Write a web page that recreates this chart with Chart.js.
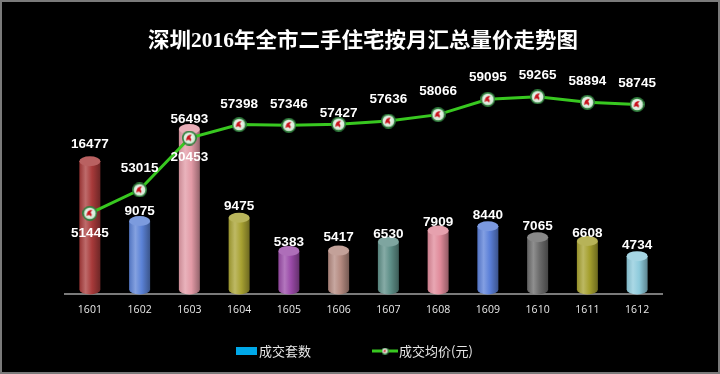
<!DOCTYPE html>
<html>
<head>
<meta charset="utf-8">
<script src="https://cdn.jsdelivr.net/npm/chart.js@4"></script>
<style>
  html, body { margin: 0; padding: 0; background: #000; }
  #chart { display: block; }
</style>
</head>
<body>
<canvas id="chart" width="720" height="374"></canvas>
<script>
// data
const months = ['1601', '1602', '1603', '1604', '1605', '1606', '1607', '1608', '1609', '1610', '1611', '1612'];
const dealCount = [16477, 9075, 20453, 9475, 5383, 5417, 6530, 7909, 8440, 7065, 6608, 4734];
const avgPrice = [51445, 53015, 56493, 57398, 57346, 57427, 57636, 58066, 59095, 59265, 58894, 58745];

const titleText = '深圳2016年全市二手住宅按月汇总量价走势图';
const countLabel = '成交套数';
const priceLabel = '成交均价(元)';

// styling
const barColors = ['#a83a3a', '#5b82d6', '#e29aa6', '#a8a232', '#9a4aa8', '#b48a80',
                   '#5e8f88', '#e08a9a', '#5a7fd8', '#6a6a6a', '#a5a02e', '#8ecbdc'];
const barLabelDy = [-17, -10, 28, -12, -9, -13, -7, -8, -11, -11, -8, -11];
const lineLabelDy = [20, -22, -19, -20, -21, -11, -22, -23, -22, -21, -21, -21];
const lineGreen = '#38c820';

function shade(hex, amt) {
  const n = parseInt(hex.slice(1), 16);
  let r = n >> 16, g = (n >> 8) & 255, b = n & 255;
  const f = v => Math.max(0, Math.min(255, Math.round(amt >= 0 ? v + (255 - v) * amt : v * (1 + amt))));
  return `rgb(${f(r)},${f(g)},${f(b)})`;
}

// marker image for the price line
function makeMarker(size) {
  const c = document.createElement('canvas');
  c.width = c.height = size;
  const g = c.getContext('2d');
  const m = size / 2;
  g.fillStyle = '#2f7d3c';
  g.beginPath(); g.arc(m, m, m, 0, Math.PI * 2); g.fill();
  const rg = g.createRadialGradient(m - 1, m - 1, 0, m, m, m * 0.8);
  rg.addColorStop(0, '#ffffff');
  rg.addColorStop(1, '#cfe8d2');
  g.fillStyle = rg;
  g.beginPath(); g.arc(m, m, m * 0.78, 0, Math.PI * 2); g.fill();
  g.fillStyle = '#c8141e';
  g.beginPath();
  g.moveTo(m - m * 0.45, m + m * 0.35);
  g.quadraticCurveTo(m - m * 0.4, m - m * 0.5, m + m * 0.3, m - m * 0.45);
  g.lineTo(m + m * 0.1, m - m * 0.1);
  g.quadraticCurveTo(m + m * 0.35, m + m * 0.1, m + m * 0.2, m + m * 0.45);
  g.quadraticCurveTo(m, m + m * 0.1, m - m * 0.45, m + m * 0.35);
  g.fill();
  return c;
}
const marker = makeMarker(15);

// draws each bar as a shaded cylinder
const cylinderPlugin = {
  id: 'cylinders',
  afterDatasetDraw(chart, args) {
    if (args.index !== 0) return;
    const ctx = chart.ctx;
    args.meta.data.forEach((bar, i) => {
      const { x, y, base, width } = bar.getProps(['x', 'y', 'base', 'width'], true);
      const rx = width / 2, ry = 5;
      const col = barColors[i];
      const left = x - rx;
      const grad = ctx.createLinearGradient(left, 0, left + width, 0);
      grad.addColorStop(0, shade(col, -0.1));
      grad.addColorStop(0.3, shade(col, 0.25));
      grad.addColorStop(0.6, col);
      grad.addColorStop(1, shade(col, -0.35));
      ctx.save();
      ctx.fillStyle = grad;
      ctx.beginPath();
      ctx.moveTo(left, y);
      ctx.lineTo(left, base - ry);
      ctx.ellipse(x, base - ry, rx, ry, 0, Math.PI, 0, true);
      ctx.lineTo(left + width, y);
      ctx.closePath();
      ctx.fill();
      ctx.fillStyle = shade(col, 0.2);
      ctx.beginPath();
      ctx.ellipse(x, y, rx, ry, 0, 0, Math.PI * 2);
      ctx.fill();
      ctx.restore();
    });
  }
};

// title, value labels, legend and frame
const decorPlugin = {
  id: 'decor',
  beforeDraw(chart) {
    const ctx = chart.ctx;
    ctx.save();
    ctx.fillStyle = '#000';
    ctx.fillRect(0, 0, chart.width, chart.height);
    ctx.restore();
  },
  afterDraw(chart) {
    const ctx = chart.ctx;
    ctx.save();

    // title
    ctx.fillStyle = '#ffffff';
    ctx.font = "bold 21px 'Liberation Serif', 'Noto Sans CJK SC'";
    ctx.textAlign = 'center';
    ctx.textBaseline = 'middle';
    const w = ctx.measureText(titleText).width;
    const target = 430;
    ctx.translate(363, 42);
    ctx.scale(target / w, 1);
    ctx.fillText(titleText, 0, 0);
    ctx.setTransform(1, 0, 0, 1, 0, 0);

    // value labels
    ctx.font = "bold 13.5px 'Liberation Sans', Arial";
    ctx.fillStyle = '#ffffff';
    chart.getDatasetMeta(0).data.forEach((bar, i) => {
      ctx.fillText(String(dealCount[i]), bar.x, bar.y + barLabelDy[i]);
    });
    chart.getDatasetMeta(1).data.forEach((pt, i) => {
      ctx.fillText(String(avgPrice[i]), pt.x, pt.y + lineLabelDy[i]);
    });

    // legend
    const ly = 351;
    ctx.fillStyle = '#00a8e8';
    ctx.fillRect(236, ly - 4, 21, 8);
    ctx.font = "13px 'Noto Sans CJK SC'";
    ctx.fillStyle = '#e6e6e6';
    ctx.textAlign = 'left';
    ctx.fillText(countLabel, 259, ly);
    ctx.strokeStyle = lineGreen;
    ctx.lineWidth = 3;
    ctx.beginPath();
    ctx.moveTo(372, ly);
    ctx.lineTo(398, ly);
    ctx.stroke();
    ctx.drawImage(makeMarker(7), 381.5, ly - 3.5);
    ctx.fillStyle = '#e6e6e6';
    ctx.fillText(priceLabel, 399, ly);

    // frame
    ctx.strokeStyle = '#7a7a7a';
    ctx.lineWidth = 2;
    ctx.strokeRect(1, 1, chart.width - 2, chart.height - 2);
    ctx.restore();
  }
};

const ctx = document.getElementById('chart').getContext('2d');
new Chart(ctx, {
  data: {
    labels: months,
    datasets: [
      {
        type: 'bar',
        label: countLabel,
        data: dealCount,
        yAxisID: 'y',
        backgroundColor: 'rgba(0,0,0,0)',
        barThickness: 21,
        order: 2
      },
      {
        type: 'line',
        label: priceLabel,
        data: avgPrice,
        yAxisID: 'y1',
        borderColor: lineGreen,
        borderWidth: 3,
        pointStyle: marker,
        pointRadius: 7,
        tension: 0,
        order: 1
      }
    ]
  },
  options: {
    responsive: false,
    animation: false,
    layout: { padding: { left: 65, right: 58, top: 56, bottom: 49 } },
    plugins: {
      legend: { display: false },
      title: { display: false },
      tooltip: { enabled: false }
    },
    scales: {
      x: {
        offset: true,
        grid: { display: false, drawTicks: false },
        border: { display: true, color: '#7a7a7a', width: 2 },
        ticks: {
          color: '#e8e8e8',
          padding: 9,
          font: { family: "'Open Sans', 'Liberation Sans'", size: 10.5 }
        }
      },
      y: {
        display: false,
        min: 0,
        max: 29500
      },
      y1: {
        display: false,
        position: 'right',
        min: 46000,
        max: 62000
      }
    }
  },
  plugins: [cylinderPlugin, decorPlugin]
});
</script>
</body>
</html>
